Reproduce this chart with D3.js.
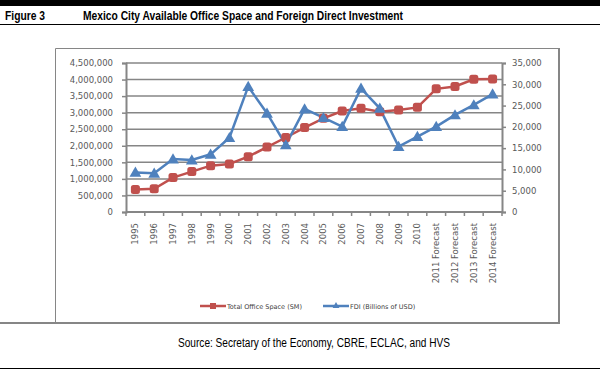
<!DOCTYPE html>
<html><head><meta charset="utf-8">
<script src="https://cdn.jsdelivr.net/npm/d3@7"></script>
<style>
body{margin:0;background:#fff;}
svg{display:block;}
</style></head>
<body>
<svg id="c" width="600" height="375"></svg>
<script>
const categories = ["1995","1996","1997","1998","1999","2000","2001","2002","2003","2004","2005","2006","2007","2008","2009","2010","2011 Forecast","2012 Forecast","2013 Forecast","2014 Forecast"];
const officeSpace = [680000,700000,1040000,1220000,1400000,1450000,1670000,1960000,2250000,2550000,2830000,3050000,3130000,3030000,3080000,3160000,3720000,3790000,4010000,4020000];
const fdi = [9300,9100,12450,12200,13550,17450,29450,23200,15750,24200,22150,20050,29050,24350,15350,17700,20050,22800,25150,27700];
const leftTicks = [0,500000,1000000,1500000,2000000,2500000,3000000,3500000,4000000,4500000];
const rightTicks = [0,5000,10000,15000,20000,25000,30000,35000];
const seriesNames = ["Total Office Space (SM)","FDI (Billions of USD)"];
const colors = ["#C0504D","#4F81BD"];

const svg = d3.select("#c");
const sans = "'Liberation Sans',Arial,sans-serif";
const tickFont = "Verdana,'DejaVu Sans',sans-serif";

// header
svg.append("rect").attr("x",0).attr("y",0).attr("width",600).attr("height",6).attr("fill","#000");
svg.append("text").attr("x",5).attr("y",20).attr("font-family",sans).attr("font-weight","bold")
  .attr("font-size",13).attr("fill","#000").attr("textLength",40).attr("lengthAdjust","spacingAndGlyphs").text("Figure 3");
svg.append("text").attr("x",83).attr("y",20).attr("font-family",sans).attr("font-weight","bold")
  .attr("font-size",13).attr("fill","#000").attr("textLength",320).attr("lengthAdjust","spacingAndGlyphs").text("Mexico City Available Office Space and Foreign Direct Investment");
svg.append("line").attr("x1",0).attr("x2",600).attr("y1",24.5).attr("y2",24.5).attr("stroke","#000").attr("stroke-width",1);

// chart box
svg.append("line").attr("x1",55.5).attr("x2",55.5).attr("y1",48.5).attr("y2",323).attr("stroke","#868686").attr("stroke-width",1);
svg.append("line").attr("x1",55.5).attr("x2",559).attr("y1",48.5).attr("y2",48.5).attr("stroke","#868686").attr("stroke-width",1);
svg.append("line").attr("x1",559).attr("x2",559).attr("y1",48).attr("y2",324).attr("stroke","#868686").attr("stroke-width",2);
svg.append("line").attr("x1",0).attr("x2",560).attr("y1",323).attr("y2",323).attr("stroke","#868686").attr("stroke-width",2);

// scales
const x = d3.scaleBand().domain(categories).range([126,502]);
const yL = d3.scaleLinear().domain([0,4500000]).range([212,63]);
const yR = d3.scaleLinear().domain([0,35000]).range([212,63]);

// gridlines
svg.append("g").selectAll("line").data(leftTicks.slice(1)).join("line")
  .attr("x1",126).attr("x2",502).attr("y1",d=>yL(d)).attr("y2",d=>yL(d))
  .attr("stroke","#868686").attr("stroke-width",1.5);

// left axis
const gL = svg.append("g").attr("transform","translate(126,0)")
  .call(d3.axisLeft(yL).tickValues(leftTicks).tickFormat(d3.format(",")).tickSize(4).tickPadding(9));
gL.select(".domain").attr("stroke","#868686").attr("stroke-width",2);
gL.selectAll(".tick line").attr("stroke","#868686").attr("stroke-width",1.5);
gL.selectAll("text").attr("font-family",tickFont).attr("font-size",8.5).attr("fill","#595959");

// right axis
const gR = svg.append("g").attr("transform","translate(502,0)")
  .call(d3.axisRight(yR).tickValues(rightTicks).tickFormat(d3.format(",")).tickSize(4).tickPadding(6));
gR.select(".domain").attr("stroke","#868686").attr("stroke-width",2);
gR.selectAll(".tick line").attr("stroke","#868686").attr("stroke-width",1.5);
gR.selectAll("text").attr("font-family",tickFont).attr("font-size",8.5).attr("fill","#595959");

// x axis
svg.append("line").attr("x1",126).attr("x2",502).attr("y1",212).attr("y2",212).attr("stroke","#868686").attr("stroke-width",2);
const bounds = categories.map(c=>x(c)).concat([x.range()[1]]);
svg.append("g").selectAll("line").data(bounds).join("line")
  .attr("x1",d=>d).attr("x2",d=>d).attr("y1",212).attr("y2",216)
  .attr("stroke","#868686").attr("stroke-width",1.5);
svg.append("g").selectAll("text").data(categories).join("text")
  .attr("transform",d=>`translate(${x(d)+x.bandwidth()/2+3},223) rotate(-90)`)
  .attr("text-anchor","end").attr("font-family",tickFont).attr("font-size",8.5).attr("fill","#595959")
  .text(d=>d);

const cx = d=>x(d)+x.bandwidth()/2;

// series lines
const lineL = d3.line().x((d,i)=>cx(categories[i])).y(d=>yL(d));
const lineR = d3.line().x((d,i)=>cx(categories[i])).y(d=>yR(d));
svg.append("path").datum(officeSpace).attr("d",lineL).attr("fill","none").attr("stroke",colors[0]).attr("stroke-width",2.5);
svg.append("path").datum(fdi).attr("d",lineR).attr("fill","none").attr("stroke",colors[1]).attr("stroke-width",2.5);

// markers
svg.append("g").selectAll("rect").data(officeSpace).join("rect")
  .attr("x",(d,i)=>cx(categories[i])-4.5).attr("y",d=>yL(d)-4.5)
  .attr("width",9).attr("height",9).attr("rx",2.5).attr("fill",colors[0]);
const tri = d3.symbol().type(d3.symbolTriangle).size(60);
svg.append("g").selectAll("path").data(fdi).join("path")
  .attr("transform",(d,i)=>`translate(${cx(categories[i])},${yR(d)+1})`)
  .attr("d",tri).attr("fill",colors[1]);

// legend
const leg = [{x:200,name:seriesNames[0],c:colors[0],t:"sq"},{x:323,name:seriesNames[1],c:colors[1],t:"tri"}];
leg.forEach(l=>{
  svg.append("line").attr("x1",l.x).attr("x2",l.x+26).attr("y1",306).attr("y2",306).attr("stroke",l.c).attr("stroke-width",2.5);
  if(l.t==="sq") svg.append("rect").attr("x",l.x+10).attr("y",303).attr("width",6).attr("height",6).attr("fill",l.c);
  else svg.append("path").attr("transform",`translate(${l.x+13},306)`).attr("d",d3.symbol().type(d3.symbolTriangle).size(20)).attr("fill",l.c);
  svg.append("text").attr("x",l.x+27).attr("y",308.5).attr("font-family",tickFont).attr("font-size",6.5).attr("fill","#404040").text(l.name);
});

// source
svg.append("text").attr("x",178).attr("y",347).attr("font-family",sans)
  .attr("font-size",12).attr("fill","#000").attr("textLength",272).attr("lengthAdjust","spacingAndGlyphs")
  .text("Source: Secretary of the Economy, CBRE, ECLAC, and HVS");
svg.append("line").attr("x1",0).attr("x2",600).attr("y1",368.5).attr("y2",368.5).attr("stroke","#000").attr("stroke-width",1);
</script>
</body></html>
